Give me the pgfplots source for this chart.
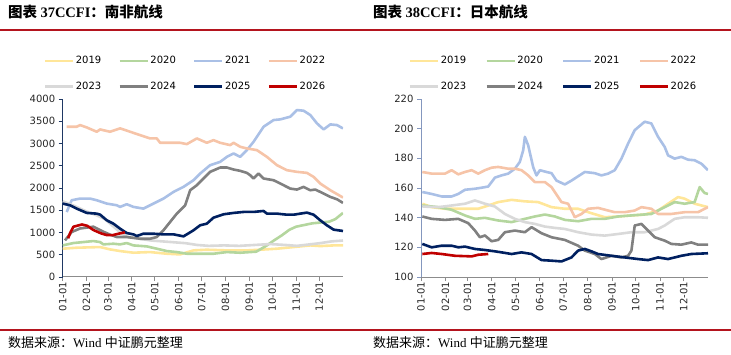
\documentclass[border=0pt]{standalone}
\usepackage{fontspec}
\usepackage{pgfplots}
\pgfplotsset{compat=1.18}
\newfontfamily\cjk{Noto Sans CJK SC}
\newfontfamily\tnr{Liberation Serif}
\newfontfamily\dv{DejaVu Sans}
\definecolor{c19}{RGB}{255,230,153}
\definecolor{c20}{RGB}{180,214,158}
\definecolor{c21}{RGB}{170,192,230}
\definecolor{c22}{RGB}{246,196,168}
\definecolor{c23}{RGB}{217,217,217}
\definecolor{c24}{RGB}{128,128,128}
\definecolor{c25}{RGB}{0,32,96}
\definecolor{c26}{RGB}{192,0,0}
\definecolor{crule}{RGB}{180,20,30}
\definecolor{yax1}{RGB}{31,56,100}
\definecolor{yax2}{RGB}{132,151,190}
\pgfplotsset{
  myax/.style={
    scale only axis, anchor=south west,
    xmin=0, xmax=365,
    axis x line*=bottom, axis y line*=left,
    x axis line style={color=gray!90, line width=1pt},
    xtick={0,31,59,90,120,151,181,212,243,273,304,334},
    xticklabels={01-01,02-01,03-01,04-01,05-01,06-01,07-01,08-01,09-01,10-01,11-01,12-01},
    xticklabel style={rotate=90, anchor=east, inner sep=1pt},
    tick align=outside,
    major tick length=4pt,
    x tick style={color=gray!90, line width=0.8pt},
    tick label style={font=\dv\fontsize{10}{12}\selectfont, text=black!85},
    /pgf/number format/assume math mode=true,
    /pgf/number format/1000 sep={},
    legend columns=4,
    legend image code/.code={\draw[##1] (0pt,0pt) -- (28pt,0pt);},
    every axis plot/.append style={line width=2.6pt, line join=round},
  }
}
\begin{document}
\begin{tikzpicture}
\useasboundingbox (0,0) rectangle (731pt,-355pt);
\draw[color=crule, line width=2pt] (0,-30pt) -- (731pt,-30pt);
\draw[color=crule, line width=2pt] (0,-330pt) -- (731pt,-330pt);
\node[anchor=west, inner sep=0] at (8pt,-12.5pt) {\fontsize{14.5}{16}\selectfont{\cjk\bfseries 图表 }{\tnr\bfseries 37CCFI}{\cjk\bfseries ：南非航线}};
\node[anchor=west, inner sep=0] at (373pt,-12.5pt) {\fontsize{14.5}{16}\selectfont{\cjk\bfseries 图表 }{\tnr\bfseries 38CCFI}{\cjk\bfseries ：日本航线}};
\node[anchor=west, inner sep=0] at (8pt,-343pt) {\fontsize{13}{15}\selectfont{\cjk 数据来源：}{\tnr Wind }{\cjk 中证鹏元整理}};
\node[anchor=west, inner sep=0] at (373pt,-343pt) {\fontsize{13}{15}\selectfont{\cjk 数据来源：}{\tnr Wind }{\cjk 中证鹏元整理}};

\begin{axis}[myax, at={(62.7pt,-277pt)}, width=280.3pt, height=178pt,
  ymin=0, ymax=4000, ytick={0,500,...,4000},
  y axis line style={color=yax1, line width=1pt},
  y tick style={color=yax1, line width=0.8pt},
  legend style={draw=none, fill=none, at={(-0.0685,1.248)}, anchor=north west,
    font=\dv\fontsize{10}{12}\selectfont, inner sep=0pt, row sep=13.5pt,
    nodes={inner sep=1.5pt}, /tikz/every even column/.append style={column sep=15.6pt}},
]
\addplot[c19] coordinates {(0,636)(18.2,658)(48.7,673)(61.7,620)(74.7,583)(92.1,546)(113.8,560)(135.6,523)(152.9,508)(170.3,598)(187.7,613)(213.8,598)(239.8,598)(257.2,613)(279,636)(300.7,673)(322.4,710)(335.4,695)(352.8,710)(365,710)};
\addlegendentry{2019}
\addplot[c20] coordinates {(0,710)(13.9,763)(26.9,785)(40,808)(48.7,785)(53,733)(66,748)(74.7,733)(83.4,763)(92.1,710)(109.5,688)(122.5,636)(135.6,583)(148.6,560)(161.6,523)(179,523)(196.4,523)(213.8,560)(231.2,545)(244.2,560)(252,569)(265,700)(275,820)(286,944)(295,1060)(304,1131)(325,1206)(347,1243)(355,1300)(365,1440)};
\addlegendentry{2020}
\addplot[c21] coordinates {(5.2,1460)(11.7,1725)(22.6,1762)(35.6,1762)(44.3,1725)(57.4,1650)(70.4,1612)(74.7,1575)(83.4,1635)(92.1,1575)(105.1,1537)(118.2,1650)(131.2,1762)(144.3,1912)(157.3,2025)(170.3,2175)(179,2325)(192,2513)(205.1,2588)(213.8,2700)(222.5,2776)(231.2,2700)(239.8,2851)(248.5,3038)(261.6,3377)(274.6,3527)(283.3,3542)(296.3,3602)(305,3752)(313.7,3737)(322.4,3640)(331.1,3452)(339.8,3316)(348.5,3429)(357.2,3414)(365,3339)};
\addlegendentry{2021}
\addplot[c22] coordinates {(5.2,3377)(18.2,3377)(22.6,3414)(31.3,3361)(44.3,3264)(48.7,3316)(61.7,3264)(74.7,3340)(87.8,3264)(100.8,3189)(113.8,3114)(122.5,3114)(126.9,3016)(139.9,3016)(152.9,3016)(161.6,2986)(174.7,3114)(187.7,3016)(196.4,3076)(205.1,3016)(218.1,2964)(222.5,3016)(231.2,2926)(239.8,2889)(252.9,2851)(265.9,2700)(279,2513)(292,2400)(305,2363)(318,2340)(326.7,2250)(335.4,2100)(348.5,1950)(365,1785)};
\addlegendentry{2022}
\addplot[c23] coordinates {(0,1700)(15,1600)(30,1480)(45,1380)(55,1300)(65,1150)(75,1000)(85,900)(100,860)(115,820)(130,800)(145,780)(160,760)(175,720)(190,700)(210,710)(230,700)(250,720)(270,740)(290,720)(305,700)(320,730)(335,760)(350,800)(365,820)};
\addlegendentry{2023}
\addplot[c24] coordinates {(3,823)(11.7,1011)(22.6,1090)(40,1131)(53,1018)(62,950)(70.4,898)(83.4,898)(100.8,860)(113.8,860)(122.5,898)(131.2,1049)(139.9,1237)(148.6,1424)(159.5,1612)(166,1950)(174.7,2063)(183.4,2213)(192,2363)(205.1,2460)(213.8,2460)(222.5,2415)(231.2,2385)(239.8,2340)(244.2,2287)(248.5,2213)(255,2325)(261.6,2213)(274.6,2175)(287.6,2063)(296.3,1987)(305,1965)(313.7,2025)(322.4,1950)(328.9,1965)(335.4,1912)(348.5,1800)(357.2,1747)(365,1665)};
\addlegendentry{2024}
\addplot[c25] coordinates {(0,1649)(9.6,1612)(18.2,1537)(31.3,1440)(44.3,1424)(48.7,1402)(57.4,1274)(66,1199)(74.7,1086)(83.4,988)(92.1,958)(96.5,921)(105.1,973)(118.2,973)(131.2,958)(144.3,958)(157.3,913)(161.6,958)(170.3,1049)(179,1162)(187.7,1199)(196.4,1334)(209.4,1409)(222.5,1440)(235.5,1462)(248.5,1462)(261.6,1484)(265.9,1424)(279,1424)(292,1400)(300.7,1400)(309.4,1424)(318,1447)(326.7,1400)(335.4,1274)(344,1162)(352.8,1064)(365,1034)};
\addlegendentry{2025}
\addplot[c26] coordinates {(7,870)(10,1000)(14,1130)(25,1180)(32,1150)(40,1056)(50,980)(57,944)(65,940)(72,970)(81,1004)};
\addlegendentry{2026}
\end{axis}

\begin{axis}[myax, at={(421pt,-277pt)}, width=287pt, height=178pt,
  ymin=100, ymax=220, ytick={100,120,...,220},
  y axis line style={color=yax2, line width=1pt},
  y tick style={color=yax2, line width=0.8pt},
  legend style={draw=none, fill=none, at={(-0.0436,1.248)}, anchor=north west,
    font=\dv\fontsize{10}{12}\selectfont, inner sep=0pt, row sep=13.5pt,
    nodes={inner sep=1.5pt}, /tikz/every even column/.append style={column sep=17.6pt}},
]
\addplot[c19] coordinates {(1.7,149.4)(13.5,147.1)(30.5,146)(55.9,146)(72.8,146)(85.5,148.2)(98.2,150.5)(115.2,152)(132.1,151)(149,150.5)(166,147.1)(182.9,146)(199.8,146)(216.8,143)(233.7,140.3)(250.7,140.8)(267.6,141.5)(284.5,142.1)(301.5,144.8)(314.2,149.4)(326.9,153.9)(335.3,152.8)(348,149.4)(365,147.1)};
\addlegendentry{2019}
\addplot[c20] coordinates {(1.7,148.2)(22,147.1)(39,145.3)(55.9,141.5)(68.6,139.2)(81.3,139.9)(98.2,138.1)(115.2,137)(132.1,139.2)(144.8,140.8)(157.5,142.1)(170.2,140.8)(182.9,138.5)(199.8,137.6)(216.8,139.2)(233.7,139.2)(250.7,140.8)(267.6,141.5)(293,142.5)(309.9,147.1)(322.6,150.5)(335.3,149.4)(348,150.5)(354.4,160.6)(360.7,156.6)(365,156)};
\addlegendentry{2020}
\addplot[c21] coordinates {(1.7,157.3)(13.5,156)(26.3,154.3)(39,154.3)(47.4,156)(55.9,158.8)(68.6,159.5)(77.1,160.2)(85.5,161)(94,167)(102.5,168.5)(110.9,169.7)(119.4,173)(125.7,177.6)(130,185.5)(132.1,194.5)(136.3,188.8)(142.7,174)(146.9,168.5)(151.2,172)(159.6,170.8)(166,170)(172.3,165)(182.9,162.4)(191.4,165)(199.8,167.9)(208.3,170.8)(221,170)(229.5,168.5)(238,169.7)(246.4,172)(254.9,179.8)(263.4,190)(271.8,199)(284.5,204.7)(293,203.5)(301.5,194.5)(309.9,187.7)(314.2,182)(322.6,179.8)(331.1,181)(339.6,179.1)(348,178.7)(356.5,176.4)(365,172)};
\addlegendentry{2021}
\addplot[c22] coordinates {(1.7,170.8)(13.5,169.7)(30.5,169.7)(39,172)(47.4,169.2)(55.9,170.8)(64.4,172)(72.8,169.7)(81.3,172)(89.8,173.7)(98.2,174.2)(110.9,173)(119.4,173)(127.9,172)(136.3,168.5)(144.8,164)(157.5,164)(166,160.6)(178.7,150.5)(187.1,149.4)(195.6,140.3)(204.1,142.5)(212.5,146)(225.2,146.6)(238,144.8)(246.4,143.7)(259.1,143.7)(271.8,144.8)(280.3,147.1)(293,146)(301.5,142.5)(318.4,142.5)(335.3,143.7)(352.3,143.7)(365,147.1)};
\addlegendentry{2022}
\addplot[c23] coordinates {(1.7,147.5)(22,147.1)(39,148.2)(55.9,149.4)(68.6,151.6)(81.3,149.4)(94,147.5)(106.7,142.5)(119.4,139.2)(132.1,137)(144.8,135.8)(157.5,134)(170.2,133.1)(182.9,132.4)(199.8,130.2)(216.8,128.6)(233.7,127.9)(250.7,129)(267.6,130.2)(284.5,130.2)(301.5,132.4)(309.9,134.7)(322.6,139.2)(335.3,140.3)(352.3,140.3)(365,139.9)};
\addlegendentry{2023}
\addplot[c24] coordinates {(1.7,140.8)(13.5,139.2)(30.5,138.5)(47.4,139.2)(60.1,136.3)(68.6,131.3)(74.9,126.8)(81.3,128)(89.8,124.1)(98.2,125)(106.7,130.2)(119.4,131.3)(132.1,130.2)(140.6,133.6)(153.3,129.5)(166,126.8)(182.9,125)(199.8,121.1)(208.3,117.8)(221,115.5)(229.5,112.1)(242.2,114.3)(254.9,113.2)(263.4,114.3)(267.6,117.8)(271.8,134.7)(280.3,135.8)(288.8,131.3)(297.2,126.8)(309.9,124.5)(318.4,122.3)(331.1,121.8)(343.8,123.3)(352.3,121.8)(365,121.8)};
\addlegendentry{2024}
\addplot[c25] coordinates {(1.7,122.3)(13.5,120)(26.3,121.1)(39,121.1)(47.4,120)(55.9,120.5)(68.6,118.9)(81.3,118.2)(94,117.3)(102.5,116.6)(115.2,115.5)(127.9,116.6)(140.6,115.5)(153.3,111.4)(166,111)(178.7,110.5)(191.4,113.2)(199.8,117.8)(208.3,118.9)(216.8,117.3)(225.2,115.5)(242.2,114.3)(259.1,113.2)(276,112.1)(288.8,111.4)(301.5,113.2)(314.2,112.1)(331.1,114.3)(343.8,115.5)(365,116)};
\addlegendentry{2025}
\addplot[c26] coordinates {(1.7,115.5)(13.5,116.2)(26.3,115.5)(43.2,114.3)(64.4,113.9)(72.8,115)(85.5,115.5)};
\addlegendentry{2026}
\end{axis}
\end{tikzpicture}
\end{document}
